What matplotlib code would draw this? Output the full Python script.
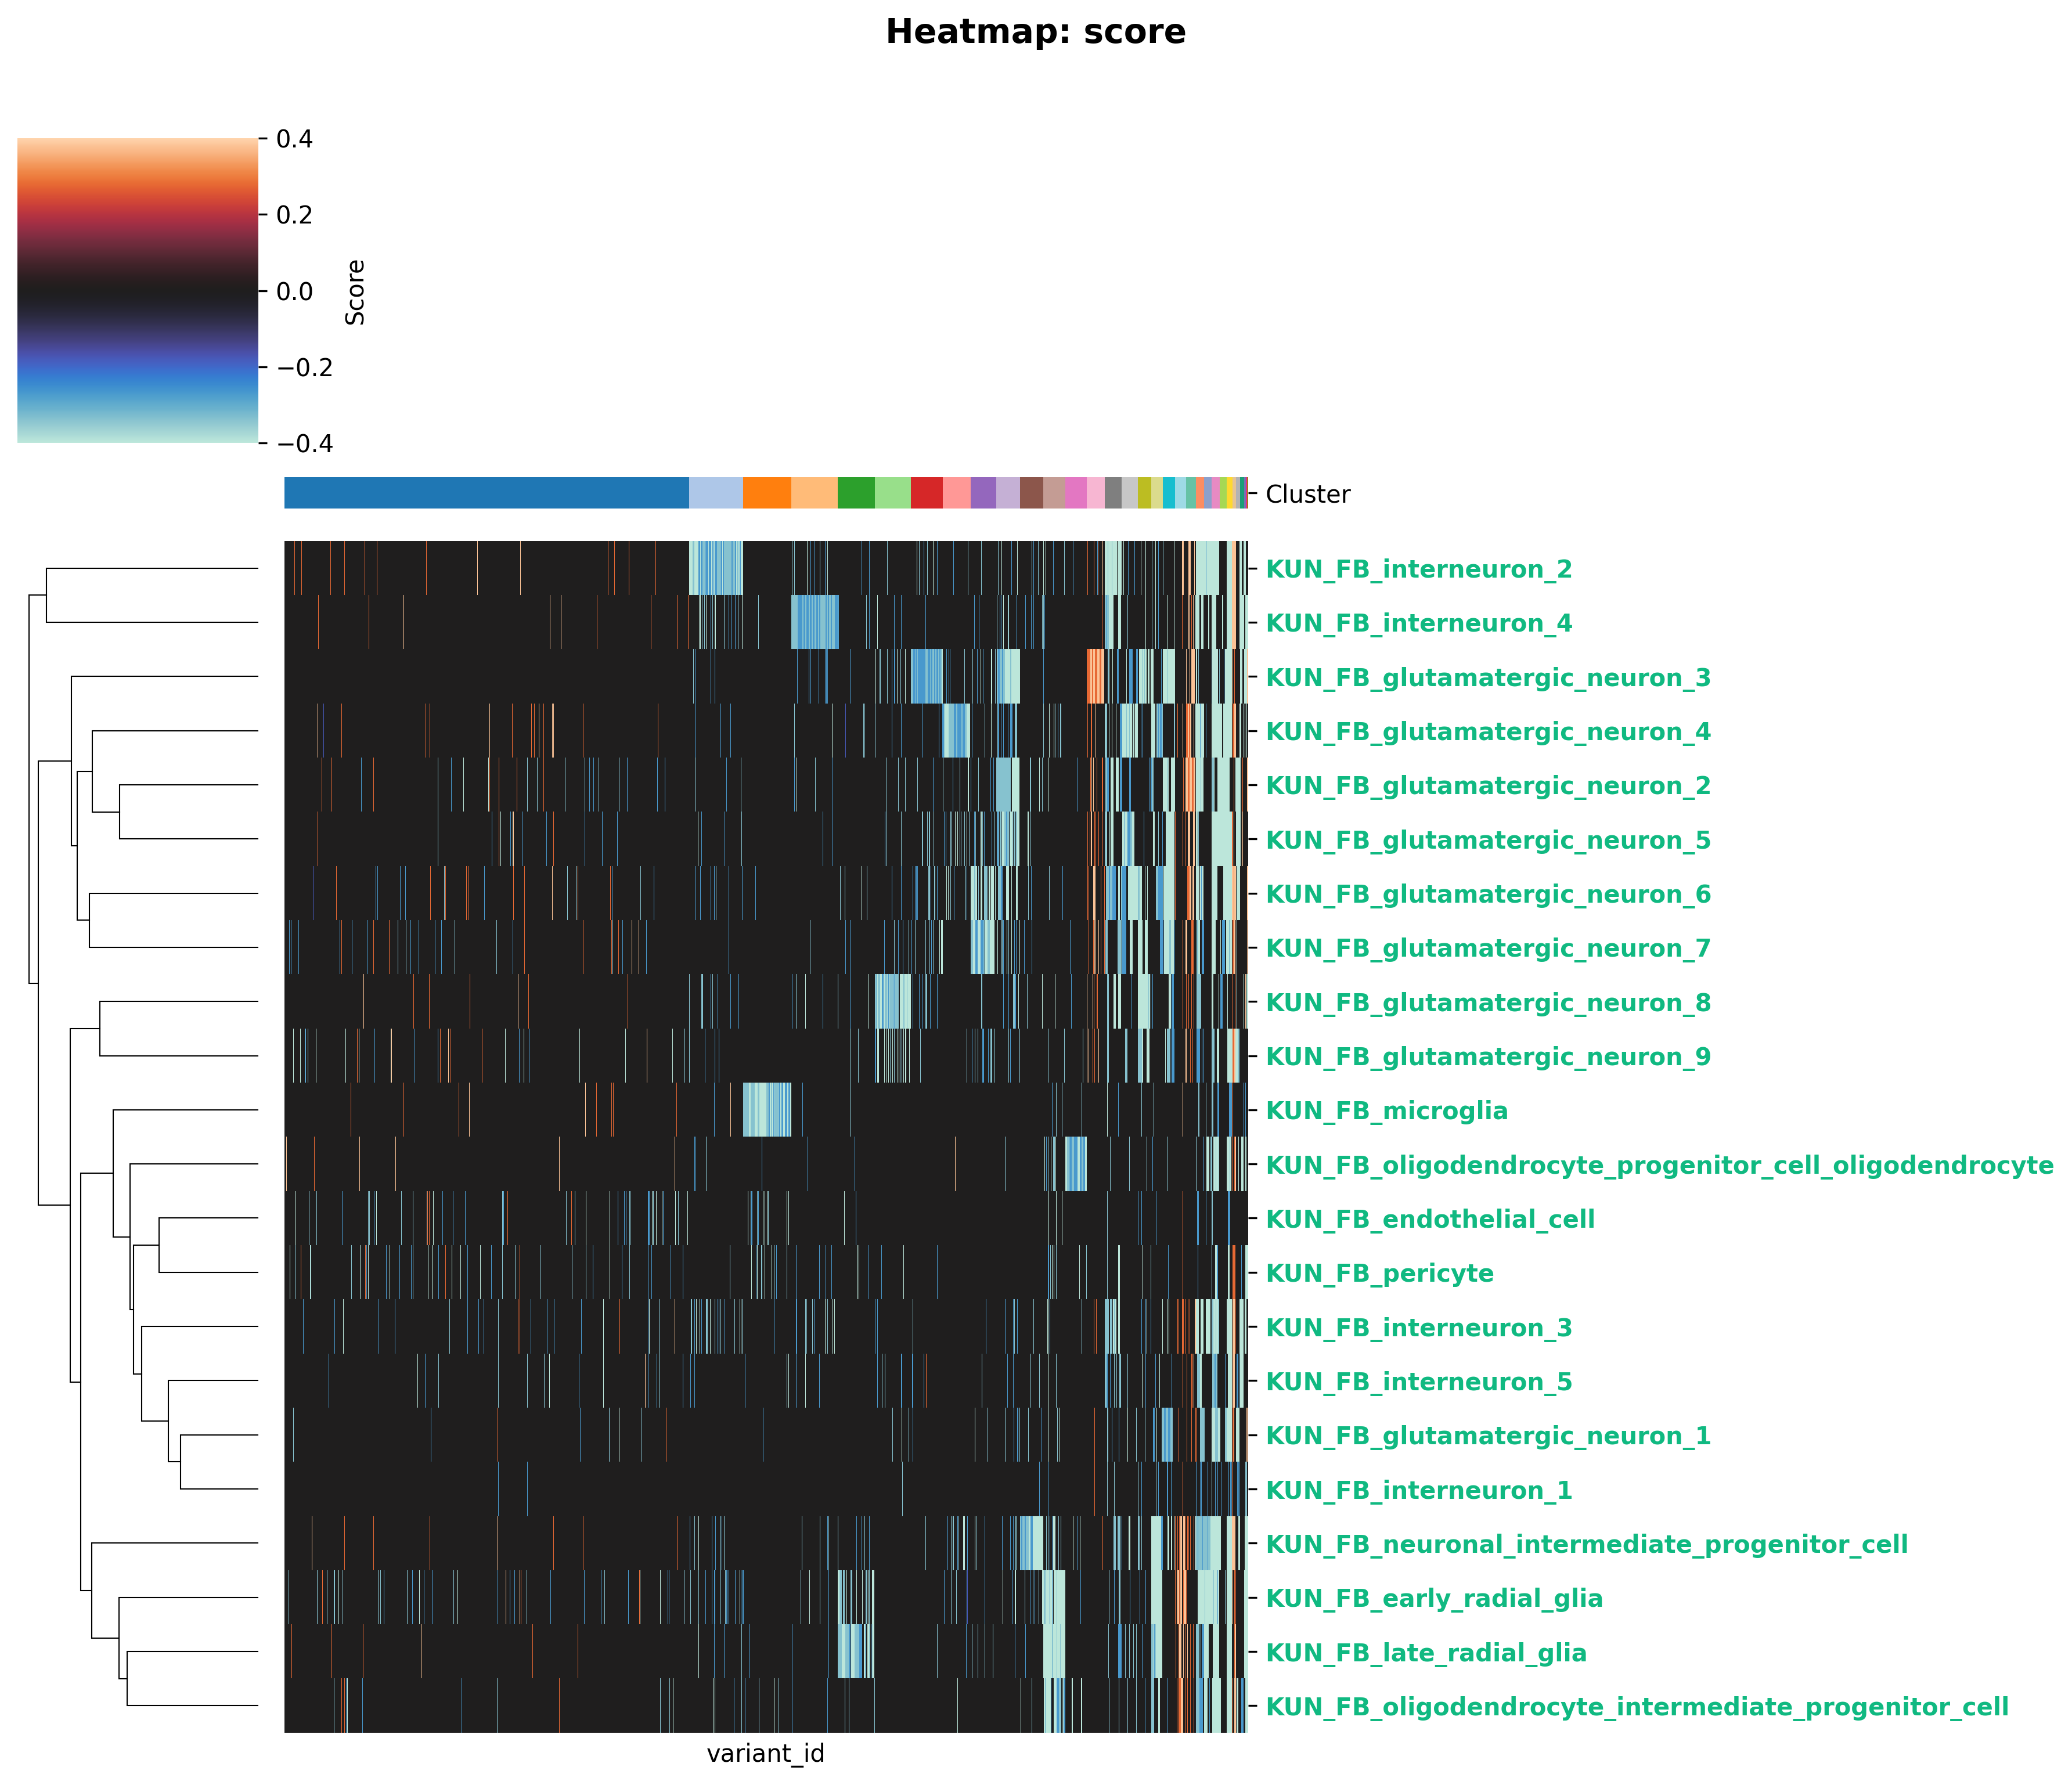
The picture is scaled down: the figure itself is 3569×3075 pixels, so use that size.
import numpy as np
import matplotlib
matplotlib.use('Agg')
import matplotlib.pyplot as plt
from matplotlib.colors import ListedColormap, Normalize
from matplotlib.cm import ScalarMappable
import seaborn as sns

# score levels
LEVELS = dict(ice=-0.4, teal=-0.34, blue=-0.27, purple=-0.18, warm=0.28, peach=0.38, gap=0.0)

n_variants = 1660
cluster_sizes = [697, 93, 83, 80, 64, 62, 55, 48, 44, 41, 40, 38, 37, 31, 29, 28, 23, 20, 21, 19,
                 17, 14, 13, 14, 12, 10, 6, 7, 7, 3, 2, 2]

row_labels = ['KUN_FB_interneuron_2', 'KUN_FB_interneuron_4', 'KUN_FB_glutamatergic_neuron_3',
              'KUN_FB_glutamatergic_neuron_4', 'KUN_FB_glutamatergic_neuron_2', 'KUN_FB_glutamatergic_neuron_5',
              'KUN_FB_glutamatergic_neuron_6', 'KUN_FB_glutamatergic_neuron_7', 'KUN_FB_glutamatergic_neuron_8',
              'KUN_FB_glutamatergic_neuron_9', 'KUN_FB_microglia',
              'KUN_FB_oligodendrocyte_progenitor_cell_oligodendrocyte', 'KUN_FB_endothelial_cell',
              'KUN_FB_pericyte', 'KUN_FB_interneuron_3', 'KUN_FB_interneuron_5', 'KUN_FB_glutamatergic_neuron_1',
              'KUN_FB_interneuron_1', 'KUN_FB_neuronal_intermediate_progenitor_cell', 'KUN_FB_early_radial_glia',
              'KUN_FB_late_radial_glia', 'KUN_FB_oligodendrocyte_intermediate_progenitor_cell']

# stripes per row: a single column or a (start, stop) run
interneuron_2 = dict(
    warm=[17, 29, 79, 103, 138, 159, 244, 557, 568, 593, 639, 1383, 1394, 1401],
    peach=[332, 406, 1409, (1546, 1549), (1557, 1561), 1567, (1632, 1639)],
    ice=[(697, 790), 900, 935, 1089, 1117, 1235, 1262, 1307, 1311, (1413, 1442), 1445, 1475, 1483, 1500, 1532,
         (1570, 1610), (1623, 1632), (1645, 1649), (1652, 1656)],
    teal=[(703, 706), (720, 724), (745, 750), (757, 770), (772, 776), (779, 782), 874, 878, 922, 1038, 1093, 1107,
          1177, 1200, 1229, 1287, 1298, 1343, 1418, 1425, 1494, 1513],
    blue=[(713, 716), (717, 720), (725, 730), (731, 735), (737, 739), (741, 745), (751, 754), (755, 757), (770, 772),
          (776, 778), (784, 786), 906, 913, 931, 994, 1007, 1101, 1124, 1152, 1252, 1290, 1324, 1358, 1400, 1453,
          1464, 1505, 1587],
    gap=[1434, 1611])
interneuron_4 = dict(
    warm=[58, 145, 538, 631, 676, 695, 1408, 1546, 1562],
    peach=[205, 457, 476, (1557, 1559), 1565, (1632, 1639)],
    ice=[714, 716, 726, (741, 743), 788, 1021, 1238, 1246, (1420, 1428), (1436, 1441), 1483, 1500, 1520, 1532,
         (1569, 1576), (1579, 1583), (1591, 1593), (1597, 1605), (1615, 1617), (1623, 1632), (1645, 1653),
         (1655, 1660)],
    teal=[719, 723, 737, 757, 781, 816, (873, 954), 1002, 1227, 1247, 1305, 1307, 1452, 1494, (1413, 1420)],
    blue=[734, 765, 770, 776, (884, 892), (894, 897), (899, 903), (905, 908), (910, 913), (916, 919), (921, 923),
          (932, 934), (936, 938), (941, 943), (948, 953), 954, 1007, 1050, 1062, 1104, 1188, 1196, 1232, 1234, 1261,
          1276, 1286, 1290, 1309, 1505, 1415],
    gap=[])
interneuron_4['ice'] += [893, 898, 904, 909, (914, 916), (924, 931), 935, (939, 941), (944, 947)]
glutamatergic_3 = dict(
    warm=[(1382, 1388), (1391, 1393), (1396, 1400), (1404, 1407), 1636],
    peach=[(1388, 1391), (1393, 1396), (1400, 1404), (1407, 1412), 1553, 1559, (1562, 1568), 1633, (1658, 1660)],
    ice=[1018, 1055, 1069, 1133, 1199, (1217, 1219), 1420, 1426, (1241, 1267), 1450, (1472, 1485), (1487, 1490),
         (1492, 1497), (1513, 1534), (1570, 1572), (1598, 1608), (1620, 1632), (1646, 1650), (1653, 1658)],
    teal=[704, 1025, 1026, 1038, 1061, (1079, 1083), (1086, 1087), (1090, 1091), (1104, 1108), (1112, 1113),
          (1116, 1119), (1121, 1123), (1126, 1128), (1130, 1133), 1171, 1185, 1224, (1227, 1241), (1250, 1252),
          1418, 1419, 1574, 1597, 1520, 1610, 1477, 1481],
    blue=[707, 734, 741, 883, 903, 906, 920, 931, 933, 935, 974, 1046, 1050, 1051, (1083, 1086), (1087, 1090),
          (1091, 1104), (1108, 1112), (1113, 1116), (1119, 1121), (1123, 1126), (1128, 1130), 1140, 1144, 1146, 1193,
          1203, 1307, (1434, 1437), (1455, 1461), (1467, 1470), 1510, 1618, (1229, 1232), (1236, 1238)],
    gap=[])
glutamatergic_4 = dict(
    warm=[98, 243, 250, 392, 425, 430, 446, 514, 643, 1383, (1389, 1391), 1538, (1553, 1556), (1558, 1560), (1633, 1636)],
    peach=[57, 353, 438, 461, 463, 1397, 1547, (1556, 1558), (1560, 1562), 1566, (1636, 1639)],
    ice=[943, 1217, 1238, 1317, 1325, 1413, 1420, 1425, 1432, (1443, 1470), (1493, 1500), (1569, 1584), (1597, 1615),
         (1617, 1632), (1645, 1648), 1652, 1654, 1657, (1137, 1144), 1146, 1150, (1175, 1181)],
    teal=[878, 997, 999, 1017, 1206, (1133, 1182), (1228, 1231), (1258, 1262), 1307, 1327, (1336, 1338), (1414, 1417),
          (1502, 1513), (1532, 1534), 1450, 1455, 1460],
    blue=[707, 751, 768, 1046, 1062, 1098, 1127, (1133, 1136), (1153, 1157), (1159, 1166), (1168, 1172), 1184, 1234,
          1238, 1246, (1250, 1254), 1332, (1439, 1443), 1475, 1478, 1505, 1577, 1587, (1229, 1231), (1508, 1511)],
    gap=[1460, 1464],
    purple=[67, 966])
glutamatergic_4['ice'] = [x for x in glutamatergic_4['ice'] if not (isinstance(x, tuple) and x[0] in (1137, 1175))]
glutamatergic_4['teal'] = [x for x in glutamatergic_4['teal'] if x != (1133, 1182)]
glutamatergic_4['teal'] += [(1133, 1137), (1144, 1153), (1157, 1159), (1166, 1168), (1172, 1175)]
glutamatergic_4['ice'] += [(1137, 1144), (1175, 1181)]
glutamatergic_2 = dict(
    warm=[64, 80, 153, 353, 369, 400, 446, 1388, 1399, (1408, 1410), 1548, (1556, 1559), (1563, 1566), 1635, 1650],
    peach=[1390, 1393, (1552, 1556), (1559, 1563), (1566, 1569), 1658, 1659],
    ice=[308, 351, 882, 1177, 1178, (1253, 1266), 1300, 1315, (1423, 1428), (1432, 1437), (1513, 1523),
         (1527, 1534), (1570, 1583), (1601, 1602), (1607, 1628), (1638, 1647)],
    teal=[264, 418, 435, 483, 517, 541, 576, 707, 786, 914, 1037, 1057, 1069, 1090, 1134, 1163, 1195, (1226, 1251),
          (1284, 1286), 1305, 1418, (1414, 1417), (1597, 1601), (1492, 1497), 1520, 1578],
    blue=[132, 287, 525, 532, 590, 642, 655, 761, 878, 944, 1117, 1151, 1182, 1216, 1221, 1366, (1417, 1420),
          (1439, 1443), (1455, 1458), 1489, 1493],
    gap=[1429, 1447, 1451, 1463])
glutamatergic_5 = dict(
    warm=[57, 369, 463, 1383, 1387, (1395, 1397), 1409, 1402, 1534, 1547, 1551, (1632, 1634)],
    peach=[394, (1389, 1391), (1556, 1560), (1565, 1568), 1635, 1650],
    ice=[372, 393, 712, 1155, 1159, 1175, (1199, 1201), (1236, 1240), (1250, 1254), (1262, 1266), (1280, 1282), 1416,
         1421, (1423, 1428), (1443, 1455), (1460, 1464), (1496, 1499), (1518, 1533), (1570, 1573), (1597, 1632),
         (1639, 1647)],
    teal=[264, 787, 1036, 1062, (1098, 1100), 1107, (1110, 1112), 1118, (1147, 1149), 1163, 1165, 1171, 1179, 1190,
          1202, 1223, (1227, 1231), (1232, 1234), (1235, 1236), (1240, 1248), (1249, 1250), (1254, 1255), (1256, 1259),
          (1260, 1262), 1285, (1413, 1416), 1505, 1574, (1457, 1460)],
    blue=[357, 389, 409, 451, 517, 547, 573, 718, 758, 927, 944, 1034, 1136, 1139, 1188, 1205, 1218, (1228, 1230),
          (1243, 1245), 1447, (1452, 1457), 1480, 1512],
    gap=[])
glutamatergic_6 = dict(
    warm=[89, 251, 277, 313, 316, 394, 413, 505, 561, 1383, 1385, 1406, 1412, 1534, (1555, 1559), 1635],
    peach=[461, (1393, 1397), (1559, 1562), (1564, 1567), (1632, 1635), (1636, 1639), (1658, 1660)],
    ice=[994, 1143, 1140, (1182, 1188), (1190, 1193), (1199, 1202), (1213, 1222), 1224, (1243, 1248), 1252,
         (1260, 1263), (1436, 1439), (1453, 1477), 1482, 1486, (1514, 1533), (1570, 1583), (1597, 1607), (1617, 1632),
         (1640, 1646)],
    teal=[275, 487, 503, 613, 743, 957, 965, 1003, (1109, 1112), (1119, 1121), 1147, 1173, 1195, (1205, 1211), 1281,
          1317, (1188, 1190), (1229, 1234), (1415, 1420), (1422, 1426), (1441, 1443), (1501, 1505), (1470, 1473)],
    blue=[157, 160, 199, 208, 344, 564, 636, 707, 716, 734, 740, 765, 788, 811, 1046, 1062, 1082, 1086, 1088, 1090,
          1113, 1124, 1153, 1175, 1286, 1340, (1234, 1237), (1420, 1422), (1426, 1432), (1443, 1450), (1505, 1513), 1579],
    gap=[(1216, 1217), 1440, 1478, 1576],
    purple=[50])
glutamatergic_7 = dict(
    warm=[98, 153, 180, 413, 514, 563, 575, 1385, 1393, 1406, 1412, 1547, (1562, 1566), (1633, 1635)],
    peach=[598, 610, (1395, 1397), 1402, (1552, 1555), (1635, 1638), 1658],
    ice=[1128, (1131, 1134), (1186, 1190), (1194, 1199), (1207, 1211), (1215, 1223), 1244, 1252, 1266, 1238, 1228,
         (1456, 1461), (1470, 1478), (1482, 1487), (1515, 1532), (1574, 1577), (1597, 1604), 1612, (1622, 1632), 1640],
    teal=[195, 209, 293, 365, 565, 905, 1050, 1075, 1086, 1104, 1111, 1117, (1182, 1186), (1204, 1206), (1211, 1215),
          (1235, 1237), 1247, (1414, 1418), (1435, 1442), (1524, 1527), (1571, 1574), (1627, 1629)],
    blue=[8, 11, 24, 95, 116, 142, 217, 231, 259, 270, 393, 582, 623, 765, 966, 974, 1033, 1057, 1065, 1080, 1114,
          (1190, 1194), (1199, 1204), 1238, 1257, 1260, 1274, 1287, 1353, (1443, 1450), (1508, 1514), (1580, 1584),
          (1615, 1620), 1533])
glutamatergic_8 = dict(
    warm=[222, 249, 319, 420, 591, 1394, 1399, 1400, 1547, 1553, 1557, 1562, 1566, 1633, 1637],
    peach=[136, 402, 1382, 1392, 1655],
    ice=[1006, 897, (1017, 1079), 1264, 1305, 1327, (1428, 1432), (1436, 1441), (1470, 1491), (1523, 1527), 1530,
         (1597, 1600), 1609, 1624, 1640, 1652, (1657, 1660)],
    teal=[697, (718, 721), 737, 881, 953, (1104, 1107), (1200, 1202), (1255, 1258), 1279, (1417, 1420), (1492, 1493),
          (1571, 1579), (1017, 1020), (1022, 1026), (1034, 1038), (1042, 1048), (1052, 1058), (1066, 1068), 1072, 1488],
    blue=[734, 746, 768, 782, 874, 927, 974, 1082, 1093, 1098, 1112, 1124, 1238, 1247, (1258, 1260), 1355, 1458,
          (1020, 1021), (1029, 1032), (1039, 1041), (1049, 1051), 1495, (1528, 1532), (1612, 1616)],
    gap=[1058, 1059])
glutamatergic_9 = dict(
    warm=[125, 268, 286, 340, 1392, 1395, 1560, 1564, (1633, 1636)],
    peach=[184, 282, 624, 1382, 1385, 1402, (1552, 1554), 1636, 1637],
    ice=[15, 27, 54, 128, 183, 380, 412, 105, 508, 587, 668, (1021, 1024), (1033, 1034), 1037, 1040, 1047, 1056, 1058,
         1066, (1069, 1071), 1076, (1477, 1479), (1485, 1490), 1517, (1606, 1610), (1624, 1633), (1638, 1642)],
    teal=[35, 40, 689, 697, 974, 988, 1095, 1175, 1189, 1194, (1216, 1219), 1223, 1247, 1266, 1315, 1343, 1375,
          (1417, 1420), (1448, 1452), (1520, 1526), (1597, 1602), (1642, 1645), (1470, 1477), 1043, 1050, 1060, 1063],
    blue=[36, 155, 224, 264, 404, 421, 724, 741, 748, (1017, 1019), 1184, (1202, 1205), 1212, 1250, (1528, 1533),
          (1571, 1577), 1580, 1583])
microglia = dict(
    warm=[114, 205, 300, 537, 563, 566, 675, 1633],
    peach=[318, 518, 768, 1547],
    ice=[(790, 873), 1417],
    teal=[(790, 800), (803, 810), (815, 818), (830, 834), (838, 840), (845, 850), 974, 1329, 1339, 1373, 1476, 1497,
          (1574, 1576), 1587, (1597, 1600)],
    blue=[740, (834, 836), (842, 844), (851, 854), (856, 859), (862, 866), (868, 871), 892, 1322, 1436, (1607, 1610),
          (1627, 1632), 1652, 1655])
opc_oligodendrocyte = dict(
    warm=[51, 1633, 1636],
    peach=[3, 129, 191, 473, 672, 1155, 1637, 1638],
    ice=[1309, 1320, 1328, (1345, 1382), (1588, 1593), (1600, 1610), (1623, 1631), 1643, (1648, 1652), (1655, 1657)],
    teal=[726, 1241, 1315, (1324, 1327), (1348, 1351), (1356, 1360), (1373, 1376), 1422, 1455, 1485, 1520, 1570,
          (1595, 1598), 1628, 1604, 1609],
    blue=[706, 708, 822, 901, 982, 1312, (1352, 1356), (1360, 1366), (1370, 1373), (1376, 1379), 1495, 1583])
endothelial = dict(
    warm=[246, 249, 384, 494, 1547],
    ice=[19, 158, 256, 519, 560, 640, 650, 673, 694, 798, 633, 824, 827, 831, 865, 868, 964, 1316, 1329, 1339],
    teal=[42, 55, 144, 146, 201, 221, 245, 375, 376, 485, 500, (594, 596), 635, 678, 803, 814, 833, 1417, (1597, 1599)],
    blue=[99, 154, 272, 290, 311, 377, 574, 585, 588, (626, 629), 652, 804, 805, 816, 984, 1470, 1476, 1501,
          (1572, 1575), 1587, (1625, 1629)])
pericyte = dict(
    warm=[28, 139, 277, 405, 1547, (1633, 1638)],
    ice=[9, 44, 130, 144, 181, 247, 254, 288, 303, 337, 560, 804, 814, 827, 839, 987, 989, 1066, 1322, 1325, 1369,
         (1436, 1439), 1478, (1603, 1606), (1625, 1628), (1655, 1660)],
    teal=[19, 45, 115, 221, 375, 397, 441, 495, 519, 594, 767, 821, 822, 843, 865, 1319, 1329, 1381, 1417, 1492, 1597],
    blue=[141, 175, 198, 218, 265, 315, 356, 531, 581, 626, 632, 665, 686, 812, 847, 881, 921, 932, 942, 1006, 1028,
          1124, 1315, 1316, 1522, (1606, 1608), 1573, 1648])
interneuron_3 = dict(
    warm=[402, 405, 577, 1394, 1398, 1538, 1540, (1546, 1549), 1552, 1556, 1559, 1638],
    peach=[672, (1568, 1570), (1633, 1637)],
    ice=[101, 549, 628, 709, 715, 733, 784, 786, 931, 944, 947, (1314, 1316), 1485, (1427, 1433), (1436, 1439), 1512,
         1520, 1523, (1570, 1575), (1578, 1583), (1587, 1595), (1600, 1610), (1623, 1632), (1645, 1652), (1654, 1657)],
    teal=[284, 368, 645, (700, 702), (726, 729), 741, 751, 775, 788, 897, 899, 909, 935, 1082, 1257, 1290, 1373,
          (1413, 1420), (1422, 1426), (1429, 1431), (1597, 1600), 1604, 1608],
    blue=[32, 86, 162, 190, 315, 334, 343, 424, 452, 464, 511, 626, 706, 718, 746, 748, 758, 843, (881, 883), 912,
          1017, 1021, 1208, 1241, 1255, 1262, 1318, 1476, 1483, 1492])
interneuron_5 = dict(
    warm=[1105, 1547, 1554, 1562, 1564],
    peach=[621, 1566, (1633, 1637)],
    ice=[229, 456, 549, 868, 897, 1315, 1477, 1507, (1577, 1580), (1625, 1632), (1646, 1652)],
    teal=[265, 368, 418, 447, 645, 865, 1029, 1034, 1201, 1285, 1300, 1329, (1413, 1416), (1572, 1577), (1598, 1602),
          (1604, 1607), 1429, 1433, (1438, 1441), 1452, 1644],
    blue=[76, 242, 507, 626, 641, 686, 699, 706, 793, 881, 921, 1021, (1062, 1064), (1081, 1083), 1101, 1245, 1255,
          (1416, 1418), 1422, 1483, 1500, 1528, (1602, 1604), 1620, (1640, 1643)])
glutamatergic_1 = dict(
    warm=[367, 657, 1395, 1540, 1554, 1562, (1569, 1571), (1633, 1635)],
    peach=[(1635, 1636), 1657, 1658],
    ice=[576, 1063, 1189, 1315, 1335, 1452, 1502, (1597, 1612), (1623, 1632), (1639, 1645)],
    teal=[15, 559, 615, 1047, 1075, 1211, 1241, 1266, 1281, 1331, (1417, 1419), 1467, 1482, (1511, 1530), (1577, 1585),
          (1603, 1608), (1620, 1623)],
    blue=[252, 509, 824, 1082, 1256, (1262, 1264), 1304, 1425, 1437, (1496, 1499), (1515, 1518), (1522, 1526)])
interneuron_1 = dict(
    warm=[1395, 1547, 1633],
    teal=[1064, 1417, 1429, 1470, 1501, 1597, (1655, 1658)],
    blue=[368, 418, 1300, 1315, 1476, 1505, (1520, 1522), 1527, 1570, 1577, 1579, 1590, 1603, 1607, 1613, 1626, 1629,
          1631, 1641, 1643, 1645])
neuronal_ipc = dict(
    warm=[103, 153, 250, 463, 514, 676, 1409, 1541, 1555, 1557, 1560, 1566, 1552, 1534, 1538],
    peach=[47, 367, (1543, 1546), (1548, 1551), 1568, (1632, 1638)],
    ice=[713, 1159, 1189, (1169, 1172), (1324, 1328), 1370, 1358, (1282, 1307), (1454, 1457), (1493, 1510), (1521, 1524),
         (1527, 1529), 1532, (1595, 1613), (1623, 1632), (1643, 1646), (1654, 1660)],
    teal=[706, 751, 757, 891, 922, 937, 953, 999, 1104, 1148, (1151, 1153), 1161, 1191, (1259, 1261), (1267, 1282),
          1312, 1315, 1333, 1337, (1569, 1595), (1470, 1473), 1476, (1428, 1432), (1435, 1440)],
    blue=[698, 736, 742, 753, 935, 985, 994, 1007, 1142, 1159, 1176, 1206, 1236, 1250, 1255, 1366, (1510, 1513), (1442, 1443),
          (1269, 1271), (1275, 1277), (1285, 1289), 1318, 1322, 1573, 1581, 1590],
    gap=[1316, 1313])
early_radial_glia = dict(
    warm=[65, 407, 611, 1534, 1537, 1541, 1548, 1553, 1632, 1636, 1638],
    peach=[381, 405, (1538, 1541), (1543, 1546), (1549, 1553), 1632],
    ice=[93, 232, 298, 612, 647, 784, 904, 1013, 1237, (1258, 1260), (1305, 1345), (1493, 1512), (1573, 1610), (1623, 1632),
         (1653, 1660), (953, 956), 968, 985, 995, 1001, 1006, (1012, 1016)],
    teal=[7, 56, 73, (85, 87), 100, 161, 165, 211, 291, 417, 551, 688, 699, 713, 751, 759, 889, 922, (956, 960), (962, 965),
          (975, 978), (1001, 1004), 1007, 1148, 1157, 1275, 1289, 1299, (1308, 1311), 1330, 1420, (1437, 1440), 1585, 1600, 1620],
    blue=[171, 220, 240, 254, 367, 388, 396, 458, 516, 545, 592, 660, 662, 725, 736, (740, 742), (761, 763), 765, 776, 786,
          788, 790, 937, 1136, 1206, 1254, 1284, 1292, 1371, 1429, 1456, 1473, 1483, 1607, 1175, 1318, 1322],
    gap=[1324, 961, 967, 972, 980, 990, 998],
    purple=[1176])
late_radial_glia = dict(
    warm=[12, 81, 135, 427, 505, 1535, 1540, 1551, 1560, 1565, 1636],
    peach=[235, (1541, 1545), 1548, 1555, (1637, 1639)],
    ice=[713, (1307, 1345), (1493, 1512), (1584, 1592), (1599, 1610), (1623, 1632), (1653, 1660), 1005, (960, 966), 978,
         1015, (976, 982), (998, 1001), (1004, 1009), (1012, 1016)],
    teal=[787, 1124, 1184, 1194, 1206, 1220, (953, 960), (966, 972), (982, 990), 1000, 1007, 1013, (1322, 1324), 1330, 1336,
          1419, 1448, 1455, 1462, 1467, (1493, 1497), 1500, (1570, 1576), 1578],
    blue=[740, 757, 801, 874, 937, (972, 975), (990, 995), 1001, 1010, 1174, 1258, 1276, (1436, 1442), (1580, 1584),
          1477, 1498])
oligodendrocyte_ipc = dict(
    warm=[98, 103, 473, 1537, 1540, 1552, 1555, 1560, 1566, (1541, 1544), 1633],
    peach=[(1544, 1548), 1636, 1638, 1637],
    ice=[108, 669, 739, 741, 843, 1159, 1268, (1356, 1358), (1372, 1374), (1308, 1320), (1325, 1330), (1339, 1345),
         (1505, 1508), (1584, 1590), (1598, 1613), (1623, 1632), (1640, 1643), (1655, 1660)],
    teal=[85, 366, 647, 663, 787, 817, 851, 965, 972, 1016, 1287, (1493, 1498), 1420, 1437, 1452, 1467, (1310, 1312),
          (1334, 1338), (1570, 1576)],
    blue=[106, 134, 305, 774, 793, 874, 935, (1330, 1334), (1342, 1345), 1320, 1482, 1520, (1576, 1582), 1593,
          (1648, 1652)],
    gap=[1322, 1340, 1511])

rows = [interneuron_2, interneuron_4, glutamatergic_3, glutamatergic_4, glutamatergic_2, glutamatergic_5,
        glutamatergic_6, glutamatergic_7, glutamatergic_8, glutamatergic_9, microglia, opc_oligodendrocyte,
        endothelial, pericyte, interneuron_3, interneuron_5, glutamatergic_1, interneuron_1, neuronal_ipc,
        early_radial_glia, late_radial_glia, oligodendrocyte_ipc]

# merge tree of the rows, (left, right, distance), children are leaves or earlier merges
merges = [(0, 1, 0.924), (4, 5, 0.605), (3, 'b', 0.724), (6, 7, 0.737), ('c', 'd', 0.790), (2, 'e', 0.815),
          (8, 9, 0.691), (12, 13, 0.433), (16, 17, 0.339), (15, 'i', 0.392), (14, 'j', 0.509), ('h', 'k', 0.544),
          (11, 'l', 0.559), (10, 'm', 0.633), (20, 21, 0.572), (19, 'o', 0.608), (18, 'p', 0.727), ('n', 'q', 0.775),
          ('g', 'r', 0.820), ('f', 's', 0.958), ('a', 't', 1.0)]
merge_names = 'abcdefghijklmnopqrstu'

# layout in pixels of the 3569x3075 canvas
W, H = 3569, 3075


def place(fig, x0, y0, x1, y1):
    return fig.add_axes([x0 / W, 1 - y1 / H, (x1 - x0) / W, (y1 - y0) / H])


def build_matrix():
    mat = np.zeros((len(rows), n_variants))
    for i, row in enumerate(rows):
        for name in ['ice', 'teal', 'blue', 'purple', 'warm', 'peach', 'gap']:
            for item in row.get(name, []):
                if isinstance(item, tuple):
                    mat[i, item[0]:item[1]] = LEVELS[name]
                else:
                    mat[i, item] = LEVELS[name]
    return mat


cmap = sns.color_palette('icefire', as_cmap=True)
norm = Normalize(-0.4, 0.4)
cluster_colors = [plt.get_cmap('tab20')(i) for i in range(20)] + [plt.get_cmap('Set2')(i) for i in range(8)]
cluster_colors += [plt.get_cmap('Dark2')(i) for i in [0, 2, 3, 6]]

plt.rcParams['font.size'] = 10
fig = plt.figure(figsize=(W / 300, H / 300), dpi=300)
fig.suptitle('Heatmap: score', fontsize=14, fontweight='bold', x=0.5, y=1 - 57 / H, va='center')

# main heatmap
ax = place(fig, 490, 932, 2150, 2985)
ax.imshow(build_matrix(), cmap=cmap, norm=norm, aspect='auto', interpolation='nearest')
ax.set_xticks([])
ax.yaxis.tick_right()
ax.set_yticks(range(len(row_labels)))
ax.set_yticklabels(row_labels, color='#10b981', fontweight='bold', va='center_baseline')
ax.set_xlabel('variant_id')
for s in ax.spines.values():
    s.set_visible(False)

# cluster colour strip
ax_col = place(fig, 490, 822, 2150, 876)
strip = np.repeat(np.arange(len(cluster_sizes)), cluster_sizes)[None, :]
ax_col.imshow(strip, cmap=ListedColormap(cluster_colors), aspect='auto', interpolation='nearest')
ax_col.set_xticks([])
ax_col.yaxis.tick_right()
ax_col.set_yticks([0])
ax_col.set_yticklabels(['Cluster'])
for s in ax_col.spines.values():
    s.set_visible(False)

# colour bar
cax = place(fig, 30, 238, 445, 763)
cb = fig.colorbar(ScalarMappable(norm=norm, cmap=cmap), cax=cax)
cb.outline.set_visible(False)
cb.set_ticks([-0.4, -0.2, 0.0, 0.2, 0.4])
cb.set_label('Score')

# row dendrogram, drawn from the merge table
ax_den = place(fig, 30, 932, 445, 2985)
pos = {i: i + 0.5 for i in range(len(rows))}
dist = {i: 0.0 for i in range(len(rows))}
for name, (a, b, d) in zip(merge_names, merges):
    ax_den.plot([dist[a], d, d, dist[b]], [pos[a], pos[a], pos[b], pos[b]], color='k', lw=0.5, solid_joinstyle='miter')
    pos[name] = (pos[a] + pos[b]) / 2
    dist[name] = d
ax_den.set_xlim(1.05, 0)
ax_den.set_ylim(len(rows), 0)
ax_den.axis('off')

fig.savefig('out.png', dpi=300)
